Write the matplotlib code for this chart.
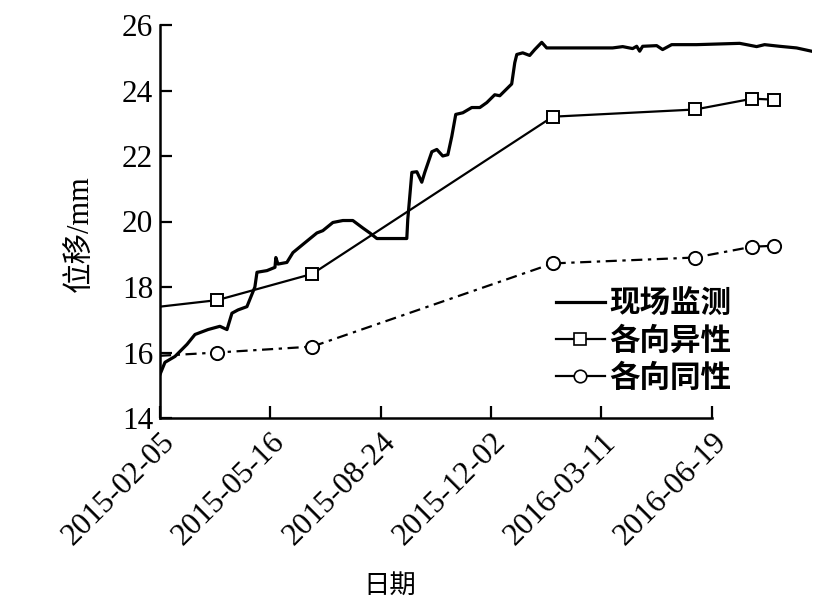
import numpy as np
import matplotlib
matplotlib.use("Agg")
import matplotlib.pyplot as plt
import matplotlib.dates as mdates
from matplotlib.lines import Line2D

base_date = np.datetime64("2015-02-05")

# 现场监测 (field monitoring): day offsets from 2015-02-05 and displacement (mm)
field_days = [0, 4.5, 13.6, 24.5, 31.7, 43.5, 54.3, 60.7, 65.2, 70.7, 78.8, 86, 87.9,
              96.9, 104.2, 105, 106.9, 115, 120.5, 129.5, 142.2, 147.6, 156.7, 165.8,
              174.8, 183.9, 190.2, 196.6, 223.7, 224.6, 228.3, 232.8, 237.3, 240, 246.4,
              250.9, 256.3, 260.9, 264.5, 268.1, 274.5, 282.6, 289.9, 296.2, 303.4, 308,
              318.8, 321.6, 323.4, 328.8, 335.1, 339.7, 346, 350.5, 380.4, 410.3, 419.4,
              428.4, 432.1, 434.8, 437.5, 450.2, 455.6, 463.8, 486.4, 525.4, 531.7,
              540.8, 548, 561.6, 577, 590.6]
field_vals = [15.33, 15.7, 15.88, 16.25, 16.55, 16.7, 16.8, 16.7, 17.2, 17.3, 17.4, 18.0, 18.45,
              18.5, 18.6, 18.9, 18.7, 18.75, 19.05, 19.3, 19.65, 19.72, 19.97, 20.03,
              20.03, 19.8, 19.65, 19.48, 19.48, 20.06, 21.5, 21.52, 21.2, 21.5, 22.13,
              22.2, 22.0, 22.04, 22.6, 23.27, 23.32, 23.48, 23.48, 23.63, 23.87, 23.84,
              24.2, 24.85, 25.1, 25.15, 25.07, 25.25, 25.47, 25.3, 25.3, 25.3, 25.34,
              25.28, 25.35, 25.2, 25.35, 25.37, 25.25, 25.4, 25.4, 25.44, 25.4,
              25.34, 25.4, 25.35, 25.3, 25.2]

# 各向异性 / 各向同性 model results
model_days = [0, 52, 138, 356, 485, 537, 557]
aniso_vals = [17.4, 17.6, 18.4, 23.2, 23.42, 23.75, 23.72]
iso_vals = [15.9, 16.0, 16.18, 18.72, 18.9, 19.23, 19.26]

tick_labels = ["2015-02-05", "2015-05-16", "2015-08-24", "2015-12-02", "2016-03-11", "2016-06-19"]
y_ticks = [14, 16, 18, 20, 22, 24, 26]

def to_dates(days):
    return [(base_date + np.timedelta64(int(round(d * 24)), "h")).astype("datetime64[s]").astype(object) for d in days]

field_x = to_dates(field_days)
model_x = to_dates(model_days)
tick_x = [np.datetime64(t).astype("datetime64[s]").astype(object) for t in tick_labels]

serif = "Liberation Serif"
cjk = "Noto Sans CJK SC"

fig = plt.figure(figsize=(8.38, 6.09), dpi=100)
ax = fig.add_axes([160/838, 1-418/609, (812-160)/838, (418-25)/609])

ax.plot(field_x, field_vals, color="black", lw=2.3, label="现场监测", zorder=3)
ax.plot(model_x, aniso_vals, color="black", lw=1.6, marker="s", markersize=8.5,
        markerfacecolor="white", markeredgewidth=1.4, markevery=list(range(1, len(model_days))),
        label="各向异性", zorder=4)
ax.plot(model_x, iso_vals, color="black", lw=1.6, ls=(0, (5, 2.5, 1.5, 2.5)), marker="o",
        markersize=9.5, markerfacecolor="white", markeredgewidth=1.4,
        markevery=list(range(1, len(model_days))), label="各向同性", zorder=4)

ax.set_xlim(to_dates([0])[0], to_dates([591])[0])
ax.set_ylim(14, 26)
ax.set_xticks(tick_x)
ax.set_xticklabels(tick_labels, rotation=45, ha="right", rotation_mode="anchor",
                   fontfamily=serif, fontsize=22.5)
ax.set_yticks(y_ticks)
ax.set_yticklabels([str(v) for v in y_ticks], fontfamily=serif, fontsize=22.5)

for s in ["top", "right"]:
    ax.spines[s].set_visible(False)
for s in ["left", "bottom"]:
    ax.spines[s].set_linewidth(1.8)
ax.spines["bottom"].set_bounds(mdates.date2num(tick_x[0]), mdates.date2num(tick_x[-1]))
ax.tick_params(axis="both", direction="in", length=8.5, width=1.6, pad=5)
ax.tick_params(axis="x", pad=7)

ax.set_ylabel("位移/mm", fontfamily=[serif, cjk], fontsize=22)
ax.yaxis.set_label_coords(-0.1, 0.47)
fig.text(390/838, 1-585/609, "日期", fontfamily=cjk, fontsize=19, ha="center", va="center")

handles = [
    Line2D([], [], color="black", lw=2.3),
    Line2D([], [], color="black", lw=1.6, marker="s", markersize=8, markerfacecolor="white", markeredgewidth=1.2),
    Line2D([], [], color="black", lw=1.6, marker="o", markersize=9, markerfacecolor="white", markeredgewidth=1.2),
]
leg = fig.legend(handles, ["现场监测", "各向异性", "各向同性"], loc="upper left",
                 bbox_to_anchor=(556/838, 1-288/609), frameon=False,
                 prop={"family": cjk, "size": 22, "weight": "bold"},
                 handlelength=1.6, handletextpad=0.15, labelspacing=0.16, borderaxespad=0, borderpad=0)

fig.savefig("out.png", dpi=100)
